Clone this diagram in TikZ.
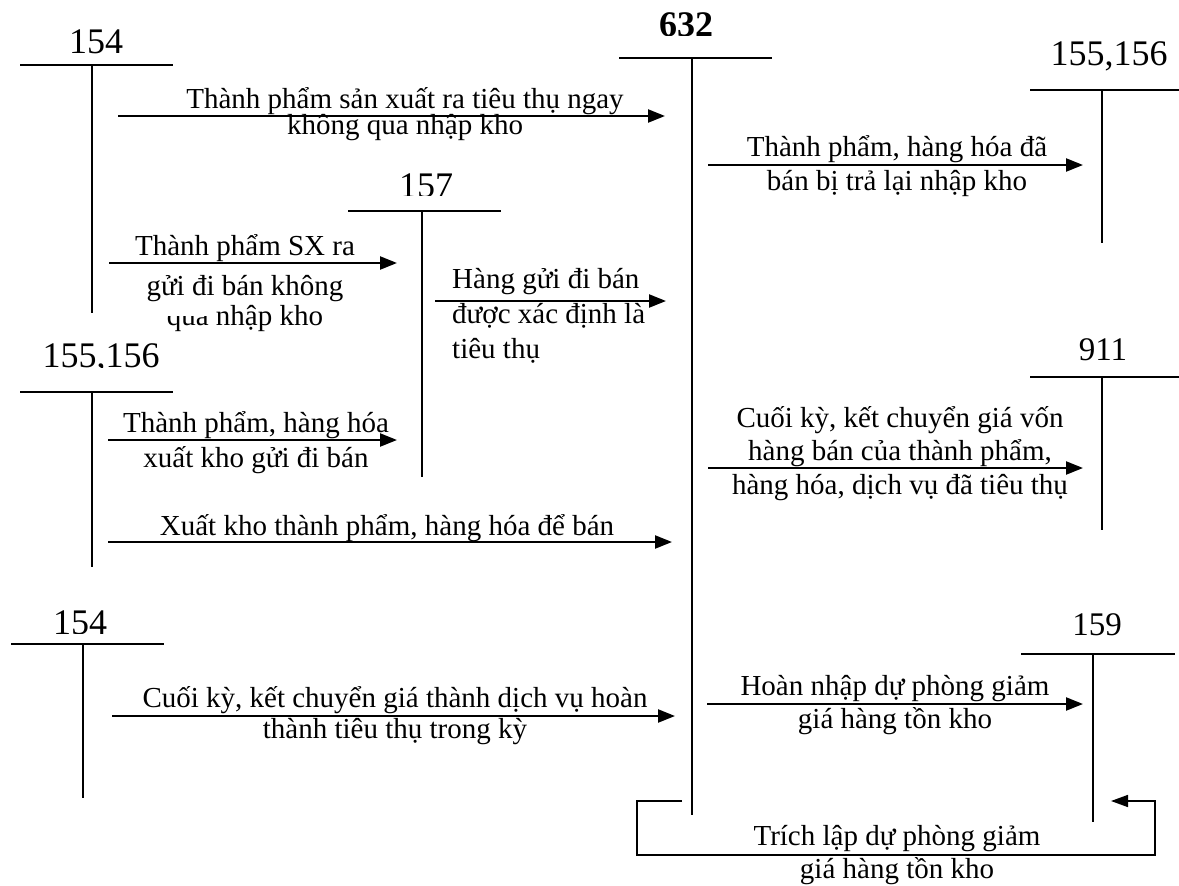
\documentclass[tikz,border=0pt]{standalone}
\usepackage{fontspec}
\setmainfont{Liberation Serif}
\usetikzlibrary{arrows.meta}

% stacked label lines with a fixed baseline distance
\newcommand{\ctrlines}[2]{\vtop{\baselineskip=#1\lineskiplimit=-500pt\lineskip=0pt\halign{\hfil##\hfil\cr#2\crcr}}}
\newcommand{\leftlines}[2]{\vtop{\baselineskip=#1\lineskiplimit=-500pt\lineskip=0pt\halign{##\hfil\cr#2\crcr}}}

\tikzset{
  acct/.style={line width=1.7pt},
  flow/.style={line width=2.3pt,-{Triangle[length=17pt,width=13pt]}},
  loopline/.style={line width=1.6pt,-{Triangle[length=17pt,width=12pt]}},
  lbl/.style={inner sep=0pt,anchor=base,font=\fontsize{29}{34}\selectfont},
  num/.style={inner sep=0pt,anchor=base,font=\fontsize{36}{40}\selectfont},
  numsm/.style={inner sep=0pt,anchor=base,font=\fontsize{33}{38}\selectfont},
}

\begin{document}
\begin{tikzpicture}[x=1pt,y=-1pt]
\fill[white] (0,0) rectangle (1179,886);
\useasboundingbox (0,0) rectangle (1179,886);

% ---------- T accounts ----------
% 154 (top left)
\node[num] (n154a) at (96,53) {154};
\draw[acct] (20,65) -- (173,65);
\draw[acct] (92,65) -- (92,313);

% 632
\begin{scope}
  \clip (600,0) rectangle (780,35);
  \node[num,font=\fontsize{36}{40}\selectfont\bfseries] (n632) at (686,36.5) {632};
\end{scope}
\draw[acct] (619,58) -- (772,58);
\draw[acct] (692,58) -- (692,815);

% 155,156 (top right)
\node[num] (n155a) at (1109,65) {155,156};
\draw[acct] (1030,90) -- (1179,90);
\draw[acct] (1102,90) -- (1102,243);

% 157
\begin{scope}
  \clip (370,150) rectangle (480,195);
  \node[num] (n157) at (426,197.5) {157};
\end{scope}
\draw[acct] (348,211) -- (501,211);
\draw[acct] (422,211) -- (422,477);

% 155,156 (left)
\begin{scope}
  \clip (20,320) rectangle (200,367.8);
  \node[num] (n155b) at (101,367) {155,156};
\end{scope}
\draw[acct] (20,392) -- (173,392);
\draw[acct] (92,392) -- (92,567);

% 911
\node[numsm] (n911) at (1103,360) {911};
\draw[acct] (1030,377) -- (1179,377);
\draw[acct] (1102,377) -- (1102,530);

% 154 (bottom left)
\begin{scope}
  \clip (20,590) rectangle (150,633);
  \node[num] (n154b) at (80,634) {154};
\end{scope}
\draw[acct] (11,644) -- (164,644);
\draw[acct] (83,644) -- (83,798);

% 159
\node[numsm] (n159) at (1097,635) {159};
\draw[acct] (1021,654) -- (1175,654);
\draw[acct] (1093,654) -- (1093,822);

% ---------- flow arrows ----------
\coordinate (a1s) at (118,116);  \coordinate (a1e) at (665,116);
\coordinate (a2s) at (708,165);  \coordinate (a2e) at (1083,165);
\coordinate (a3s) at (109,263);  \coordinate (a3e) at (397,263);
\coordinate (a4s) at (435,301);  \coordinate (a4e) at (666,301);
\coordinate (a5s) at (108,440);  \coordinate (a5e) at (397,440);
\coordinate (a6s) at (108,542);  \coordinate (a6e) at (672,542);
\coordinate (a7s) at (708,468);  \coordinate (a7e) at (1083,468);
\coordinate (a8s) at (112,716);  \coordinate (a8e) at (675,716);
\coordinate (a9s) at (707,704);  \coordinate (a9e) at (1083,704);

\draw[flow] (a1s) -- (a1e);
\draw[flow] (a2s) -- (a2e);
\draw[flow] (a3s) -- (a3e);
\draw[flow] (a4s) -- (a4e);
\draw[flow] (a5s) -- (a5e);
\draw[flow] (a6s) -- (a6e);
\draw[flow] (a7s) -- (a7e);
\draw[flow] (a8s) -- (a8e);
\draw[flow] (a9s) -- (a9e);

% provision loop from 632 round to 159
\coordinate (ls) at (682,801);
\coordinate (le) at (1111,801);
\draw[loopline] (ls) -- (637,801) -- (637,855) -- (1155,855) -- (1155,801) -- (le);

% ---------- labels ----------
\node[lbl] (tA) at (405,108.5) {\ctrlines{25.5pt}{Thành phẩm sản xuất ra tiêu thụ ngay\cr không qua nhập kho}};
\node[lbl] (tB) at (897,156) {\ctrlines{34pt}{Thành phẩm, hàng hóa đã\cr bán bị trả lại nhập kho}};
\begin{scope}
  \clip (100,225) -- (400,225) -- (400,345) -- (100,345) -- (100,316)
        -- (209,316) -- (209,306) -- (100,306) -- cycle;
  \node[lbl] (tC) at (245,255) {\ctrlines{30pt}{Thành phẩm SX ra\cr\noalign{\vskip10pt} gửi đi bán không\cr qua nhập kho}};
\end{scope}
\node[lbl,anchor=base west] (tD) at (452,288) {\leftlines{35pt}{Hàng gửi đi bán\cr được xác định là\cr tiêu thụ}};
\node[lbl] (tE) at (256,432) {\ctrlines{35pt}{Thành phẩm, hàng hóa\cr xuất kho gửi đi bán}};
\node[lbl] (tF) at (387,535) {Xuất kho thành phẩm, hàng hóa để bán};
\node[lbl] (tG) at (900,427) {\ctrlines{33.5pt}{Cuối kỳ, kết chuyển giá vốn\cr hàng bán của thành phẩm,\cr hàng hóa, dịch vụ đã tiêu thụ}};
\node[lbl] (tH) at (395,707) {\ctrlines{31pt}{Cuối kỳ, kết chuyển giá thành dịch vụ hoàn\cr thành tiêu thụ trong kỳ}};
\node[lbl] (tI) at (895,695) {\ctrlines{33pt}{Hoàn nhập dự phòng giảm\cr giá hàng tồn kho}};
\node[lbl] (tJ) at (897,845) {\ctrlines{33pt}{Trích lập dự phòng giảm\cr giá hàng tồn kho}};
\end{tikzpicture}
\end{document}
